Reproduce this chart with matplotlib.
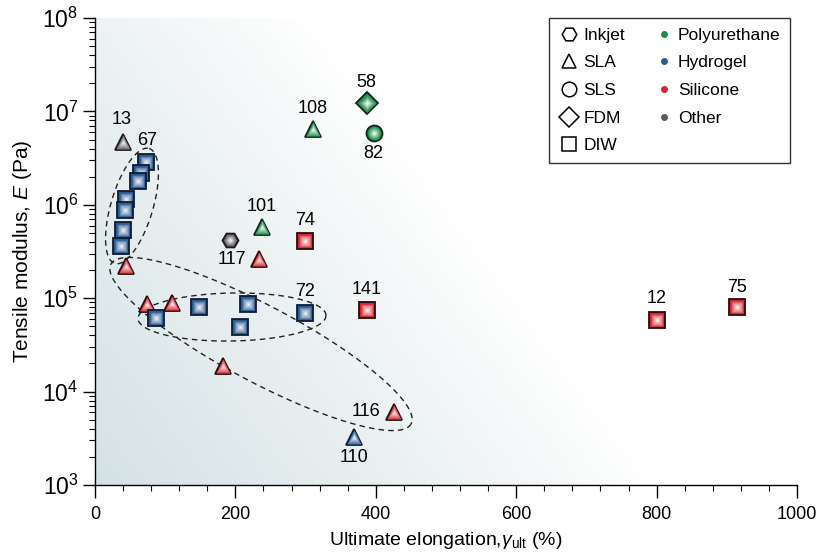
import numpy as np
import matplotlib
matplotlib.use("Agg")
import matplotlib.pyplot as plt
from matplotlib.lines import Line2D
from matplotlib.colors import to_rgb

plt.rcParams['font.family'] = ['Liberation Sans', 'DejaVu Sans']
plt.rcParams['mathtext.fontset'] = 'custom'
plt.rcParams['mathtext.rm'] = 'Liberation Sans'
plt.rcParams['mathtext.it'] = 'Liberation Sans:italic'

# ---------------- data ----------------
elongation = [40, 72, 65, 61, 44, 43, 40, 37, 44, 193, 238, 234, 299, 310, 387, 397,
              74, 110, 87, 148, 218, 207, 299, 387, 182, 426, 369, 800, 915]
modulus = [4.7e6, 2.9e6, 2.2e6, 1.8e6, 1.15e6, 8.8e5, 5.4e5, 3.6e5, 2.2e5, 4.2e5, 5.8e5,
           2.6e5, 4.1e5, 6.5e6, 1.23e7, 5.9e6, 8.7e4, 8.9e4, 6.1e4, 8.1e4, 8.7e4, 4.9e4,
           6.9e4, 7.5e4, 1.9e4, 6.1e3, 3.3e3, 5.8e4, 8.1e4]
method = ['SLA', 'DIW', 'DIW', 'DIW', 'DIW', 'DIW', 'DIW', 'DIW', 'SLA', 'Inkjet', 'SLA',
          'SLA', 'DIW', 'SLA', 'FDM', 'SLS', 'SLA', 'SLA', 'DIW', 'DIW', 'DIW', 'DIW',
          'DIW', 'DIW', 'SLA', 'SLA', 'SLA', 'DIW', 'DIW']
material = ['Other', 'Hydrogel', 'Hydrogel', 'Hydrogel', 'Hydrogel', 'Hydrogel', 'Hydrogel',
            'Hydrogel', 'Silicone', 'Other', 'Polyurethane', 'Silicone', 'Silicone',
            'Polyurethane', 'Polyurethane', 'Polyurethane', 'Silicone', 'Silicone',
            'Hydrogel', 'Hydrogel', 'Hydrogel', 'Hydrogel', 'Hydrogel', 'Silicone',
            'Silicone', 'Silicone', 'Hydrogel', 'Silicone', 'Silicone']
ref_label = ['13', '67', '', '', '', '', '', '', '', '', '101', '117', '74', '108', '58', '82',
             '', '', '', '', '', '', '72', '141', '', '116', '110', '12', '75']
# label offsets (points) relative to marker
label_dx = [-1, 1, 0, 0, 0, 0, 0, 0, 0, 0, 0, -20, 0, 0, 0, 0, 0, 0, 0, 0, 0, 0, 0, 0, 0, -20, 0, 0, 0]
label_dy = [16, 15, 0, 0, 0, 0, 0, 0, 0, 0, 15, 0, 15, 15, 14.5, -15, 0, 0, 0, 0, 0, 0, 16, 15,
            0, 0, -15, 16, 14]

method_names = ['Inkjet', 'SLA', 'SLS', 'FDM', 'DIW']
material_names = ['Polyurethane', 'Hydrogel', 'Silicone', 'Other']

# ---------------- styles ----------------
shape = {'Inkjet': 'H', 'SLA': '^', 'SLS': 'o', 'FDM': 'D', 'DIW': 's'}
size = {'Inkjet': 11.5, 'SLA': 12, 'SLS': 11.5, 'FDM': 11, 'DIW': 11.5}
base = {'Polyurethane': '#1c8a4a', 'Hydrogel': '#2b5a91', 'Silicone': '#d42532', 'Other': '#5a5a5a'}
edge = {'Polyurethane': '#0c2a18', 'Hydrogel': '#0b1c36', 'Silicone': '#2a0a0a', 'Other': '#1a1a1a'}

fig = plt.figure(figsize=(8.18, 5.52), dpi=100)
ax = fig.add_axes([95 / 818, 1 - 485 / 552, 702 / 818, 467 / 552])
ax.set_xlim(0, 1000)
ax.set_ylim(1e3, 1e8)
ax.set_yscale('log')

# background gradient
nx, ny = 300, 200
xa = np.linspace(0, 1, nx)
ya = np.linspace(0, 1, ny)
XA, YA = np.meshgrid(xa, ya)
f = np.clip(1 - (XA / 0.8 + YA * 0.62), 0, 1) ** 0.9
tint = np.array([0.835, 0.885, 0.895])
img = np.ones((ny, nx, 3)) * (1 - f[..., None]) + tint * f[..., None]
ax.imshow(img, extent=[0, 1, 0, 1], transform=ax.transAxes, origin='lower',
          aspect='auto', zorder=0, interpolation='bilinear')


def grad_marker(x, y, mk, ms, col, ec, z):
    c = np.array(to_rgb(col))
    ax.plot([x], [y], marker=mk, ms=ms, mfc=col, mec=ec, mew=1.3, ls='none', zorder=z)
    n = 8
    for i in range(1, n + 1):
        t = i / n
        cc = c * (1 - t) + np.array([1, 1, 1]) * t
        s = (ms - 1.3) * (1 - t) * 0.95 + 0.6
        ax.plot([x], [y], marker=mk, ms=s, mfc=cc, mec='none', ls='none', zorder=z + 0.001 * i)


for i, (x, y, m, mat) in enumerate(zip(elongation, modulus, method, material)):
    grad_marker(x, y, shape[m], size[m], base[mat], edge[mat], 3 + i * 0.02)
    if ref_label[i]:
        ax.annotate(ref_label[i], (x, y), xytext=(label_dx[i], label_dy[i]),
                    textcoords='offset points', ha='center', va='center', fontsize=13, zorder=10)


# dashed grouping ellipses (defined in reference pixel space)
def px_to_data(px, py):
    return (px - 95) / 0.702, 10 ** (8 - (py - 18) / 93.4)


def ellipse(cx, cy, a, b, th):
    t = np.linspace(0, 2 * np.pi, 400)
    u, v = a * np.cos(t), b * np.sin(t)
    r = np.deg2rad(th)
    px = cx + u * np.cos(r) - v * np.sin(r)
    py = cy + u * np.sin(r) + v * np.cos(r)
    X, Y = px_to_data(px, py)
    ax.plot(X, Y, ls=(0, (4, 3)), color='#222222', lw=1.0, zorder=2)


ellipse(132, 206, 60, 21, -73.4)
ellipse(232, 317, 94, 24, -1)
ellipse(261, 344, 170, 38, 28)

# axes style
for s in ['top', 'right']:
    ax.spines[s].set_visible(False)
ax.spines['left'].set_linewidth(1.0)
ax.spines['bottom'].set_linewidth(1.0)
ax.set_xticks([0, 200, 400, 600, 800, 1000])
ax.set_xticks(np.arange(0, 1001, 40), minor=True)
ax.tick_params(axis='both', which='major', direction='out', length=9, width=1.0, labelsize=13)
ax.tick_params(axis='y', which='major', labelsize=16.5, pad=3)
ax.tick_params(axis='both', which='minor', direction='out', length=4.5, width=0.8)
ax.tick_params(axis='x', which='major', pad=6)
ax.set_xlabel(r'Ultimate elongation,$\gamma_{\mathrm{ult}}$ (%)', fontsize=14, labelpad=5)
ax.set_ylabel(r'Tensile modulus, $E$ (Pa)', fontsize=15, labelpad=6)

# legend
handles = []
for m in method_names:
    ms = 10.5 if m != 'FDM' else 10
    handles.append(Line2D([], [], marker=shape[m], ms=ms, mfc='none', mec='black', mew=1.1,
                          ls='none', label=m))
for mat in material_names:
    handles.append(Line2D([], [], marker='o', ms=5, mfc=base[mat], mec='none', ls='none', label=mat))
leg = ax.legend(handles=handles, ncol=2, loc='upper right', bbox_to_anchor=(0.99, 1.0),
                borderaxespad=0, frameon=True, fancybox=False, edgecolor='black',
                fontsize=12.5, labelspacing=0.72, handletextpad=0.15, columnspacing=1.6,
                handlelength=1.3, borderpad=0.55)
leg.get_frame().set_linewidth(1.0)
leg.set_zorder(20)

fig.savefig('out.png', dpi=100)
